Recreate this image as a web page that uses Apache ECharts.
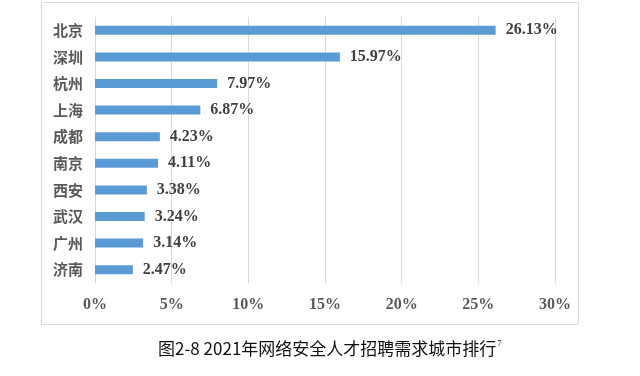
<!DOCTYPE html>
<html>
<head>
<meta charset="utf-8">
<script src="https://cdn.jsdelivr.net/npm/echarts@6/dist/echarts.min.js"></script>
<style>
  html, body { margin: 0; padding: 0; background: #fff; }
  #chart { width: 640px; height: 376px; }
</style>
</head>
<body>
<div id="chart"></div>
<script>
const cities = ['北京', '深圳', '杭州', '上海', '成都', '南京', '西安', '武汉', '广州', '济南'];
const shares = [26.13, 15.97, 7.97, 6.87, 4.23, 4.11, 3.38, 3.24, 3.14, 2.47];
const xTicks = [0, 5, 10, 15, 20, 25, 30];

const myChart = echarts.init(document.getElementById('chart'));

const option = {
  animation: false,
  backgroundColor: '#fff',
  title: {
    left: 153,
    top: 334,
    text: '{a|图2-8 2021年网络安全人才招聘需求城市排行}{s|7}',
    textStyle: {
      rich: {
        a: { fontFamily: 'Noto Sans CJK SC', fontWeight: 'normal', fontSize: 17, color: '#111', verticalAlign: 'bottom' },
        s: { fontFamily: 'Liberation Serif', fontWeight: 'normal', fontSize: 9, color: '#111', verticalAlign: 'top', padding: [0, 0, 9, 1] }
      }
    }
  },
  graphic: [
    {
      type: 'rect',
      shape: { x: 41.5, y: 2.5, width: 537, height: 322 },
      style: { fill: 'none', stroke: '#d9d9d9', lineWidth: 1 },
      z: -1
    }
  ],
  grid: { left: 95, right: 85, top: 17, bottom: 93 },
  xAxis: {
    type: 'value',
    min: xTicks[0],
    max: xTicks[xTicks.length - 1],
    interval: 5,
    axisLine: { show: false },
    axisTick: { show: false },
    splitLine: { lineStyle: { color: '#d9d9d9', width: 1 } },
    axisLabel: {
      formatter: '{value}%',
      margin: 14,
      fontFamily: 'Liberation Serif',
      fontWeight: 'bold',
      fontSize: 16,
      color: '#595959'
    }
  },
  yAxis: {
    type: 'category',
    inverse: true,
    data: cities,
    axisLine: { show: false },
    axisTick: { show: false },
    axisLabel: {
      margin: 12,
      fontFamily: 'Noto Sans CJK SC',
      fontWeight: 'bold',
      fontSize: 15,
      color: '#595959'
    }
  },
  series: [
    {
      type: 'bar',
      data: shares,
      barWidth: 9,
      itemStyle: { color: '#5b9bd5' },
      label: {
        show: true,
        position: 'right',
        distance: 10,
        formatter: (p) => p.value.toFixed(2) + '%',
        fontFamily: 'Liberation Serif',
        fontWeight: 'bold',
        fontSize: 16,
        color: '#404040'
      }
    }
  ]
};

myChart.setOption(option);
</script>
</body>
</html>
